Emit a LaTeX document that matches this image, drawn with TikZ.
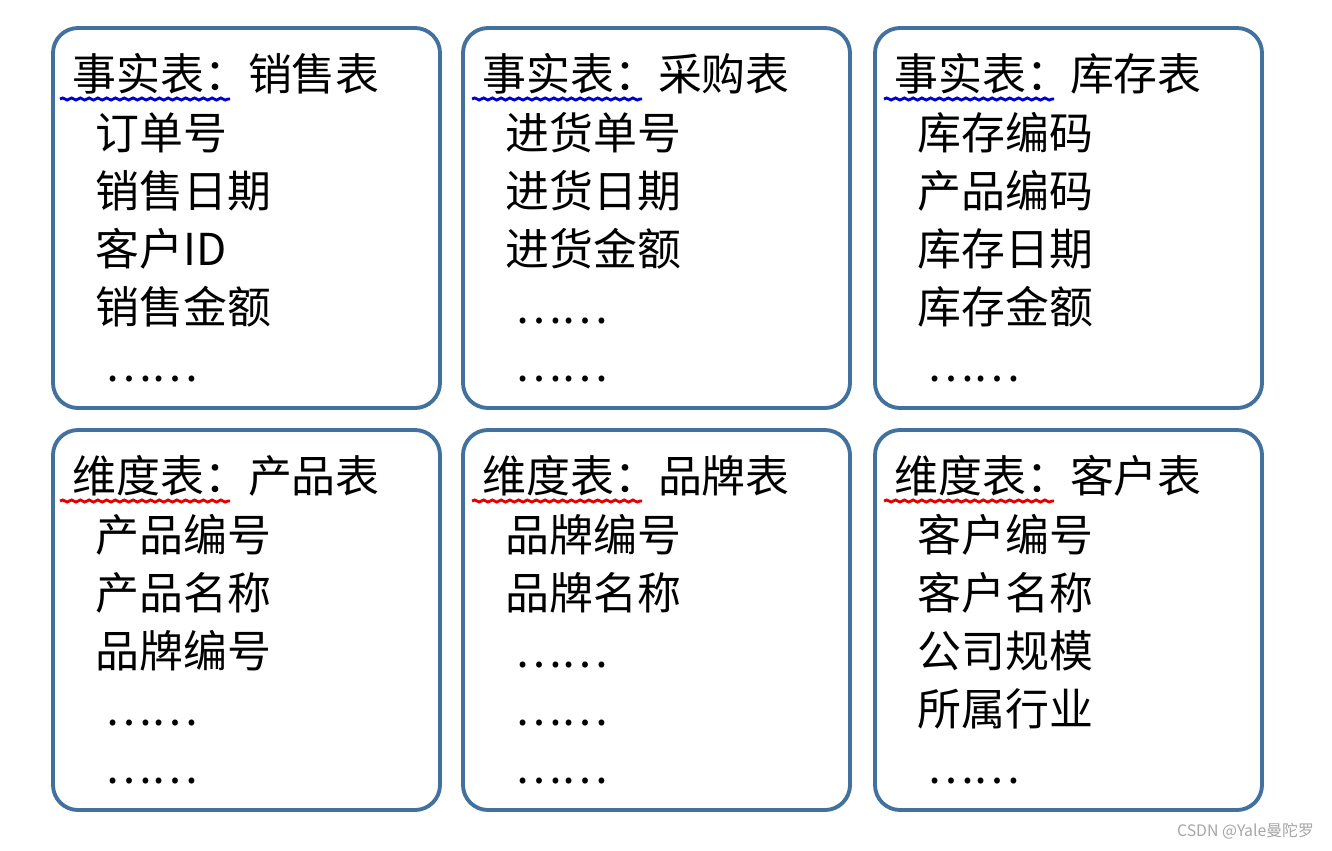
\documentclass[tikz,border=0pt]{standalone}
\usepackage{fontspec}
\setmainfont{Noto Sans CJK SC}
\usetikzlibrary{decorations.pathmorphing}
\definecolor{boxblue}{RGB}{65,113,156}
\tikzset{
  tablebox/.style={draw=boxblue, line width=2.2pt, rounded corners=0.5cm},
  rowtext/.style={anchor=base west, inner sep=0pt, font=\fontsize{25}{30}\selectfont},
  wavy/.style={line width=1.6pt, decorate, decoration={snake, amplitude=0.6pt, segment length=5pt}}
}
\begin{document}
\begin{tikzpicture}[x=0.02cm, y=-0.02cm]
  \useasboundingbox[fill=white] (0,0) rectangle (1332,850);
  % boxes
  \foreach \bx in {53,463,875}
  \foreach \by in {28,430}
  \draw[tablebox] (\bx,\by) rectangle ++(387,380);
  % fact tables
  \node[rowtext] (f1) at (72,90) {事实表：销售表};
  \node[rowtext] (f2) at (482,90) {事实表：采购表};
  \node[rowtext] (f3) at (894,90) {事实表：库存表};
  \foreach \x/\n in {60/f1,472/f2,884/f3}
  \draw[wavy, blue!80!black] (\x,99) -- ++(170,0);
  % dimension tables
  \node[rowtext] (d1) at (72,492) {维度表：产品表};
  \node[rowtext] (d2) at (482,492) {维度表：品牌表};
  \node[rowtext] (d3) at (894,492) {维度表：客户表};
  \foreach \x in {60,472,884}
  \draw[wavy, red!90!black] (\x,501) -- ++(170,0);
  % rows
  \foreach \t [count=\i] in {订单号,销售日期,客户ID,销售金额,\ ……}
  \node[rowtext] (s\i) at (95,91+58*\i) {\t};
  \foreach \t [count=\i] in {进货单号,进货日期,进货金额,\ ……,\ ……}
  \node[rowtext] (p\i) at (505,91+58*\i) {\t};
  \foreach \t [count=\i] in {库存编码,产品编码,库存日期,库存金额,\ ……}
  \node[rowtext] (k\i) at (917,91+58*\i) {\t};
  \foreach \t [count=\i] in {产品编号,产品名称,品牌编号,\ ……,\ ……}
  \node[rowtext] (c\i) at (95,493+58*\i) {\t};
  \foreach \t [count=\i] in {品牌编号,品牌名称,\ ……,\ ……,\ ……}
  \node[rowtext] (b\i) at (505,493+58*\i) {\t};
  \foreach \t [count=\i] in {客户编号,客户名称,公司规模,所属行业,\ ……}
  \node[rowtext] (u\i) at (917,493+58*\i) {\t};
  % watermark
  \node[anchor=east, text=gray!70, font=\fontsize{9}{10}\selectfont] (mark) at (1320,831) {CSDN @Yale曼陀罗};
\end{tikzpicture}
\end{document}
